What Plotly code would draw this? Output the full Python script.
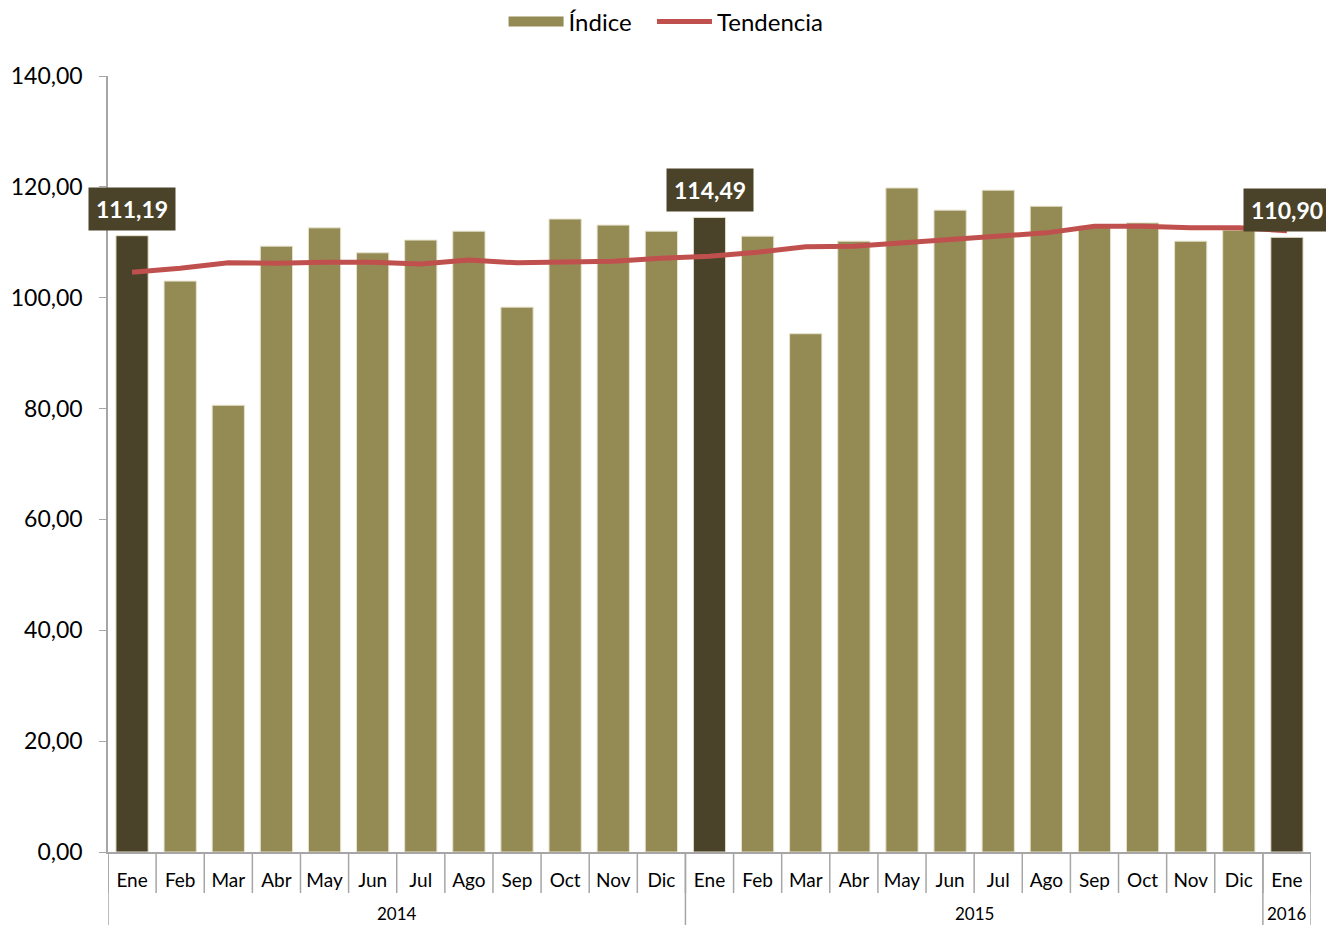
import plotly.graph_objects as go

months = ["Ene", "Feb", "Mar", "Abr", "May", "Jun", "Jul", "Ago", "Sep", "Oct", "Nov", "Dic",
          "Ene", "Feb", "Mar", "Abr", "May", "Jun", "Jul", "Ago", "Sep", "Oct", "Nov", "Dic",
          "Ene"]
years = ["2014", "2015", "2016"]
year_counts = [12, 12, 1]
indice = [111.19, 103.0, 80.6, 109.3, 112.6, 108.1, 110.4, 112.0, 98.3, 114.2, 113.1, 112.0,
          114.49, 111.1, 93.5, 110.2, 119.8, 115.8, 119.4, 116.5, 112.9, 113.5, 110.2, 112.2,
          110.90]
tendencia = [104.6, 105.3, 106.3, 106.2, 106.4, 106.4, 106.1, 106.8, 106.3, 106.4, 106.6, 107.1,
             107.5, 108.2, 109.2, 109.3, 109.9, 110.5, 111.2, 111.7, 112.9, 112.9, 112.6, 112.6,
             112.1]
highlight = [0, 12, 24]

x = list(range(len(months)))
light = "#948A54"
dark = "#4A4329"
colors = [dark if i in highlight else light for i in x]

fig = go.Figure()
fig.add_trace(go.Bar(x=x, y=indice, name="Índice", marker=dict(color=colors, line=dict(color="#E6E2CC", width=1)),
                     showlegend=False))
# legend proxy for bars (wide rectangle look)
fig.add_trace(go.Scatter(x=[None], y=[None], name="Índice", mode="lines",
                         line=dict(color=light, width=16), showlegend=True, legend="legend"))
fig.add_trace(go.Scatter(x=x, y=tendencia, name="Tendencia", mode="lines",
                         line=dict(color="#C0504D", width=5), legend="legend2"))

font = "Lato"
W, H = 1318, 917
ml, mr, mt, mb = 100, 15, 68, 73
plot_h = H - mt - mb
shapes = []
# month separators
for i in range(len(months) + 1):
    shapes.append(dict(type="line", xref="x", yref="paper", x0=i - 0.5, x1=i - 0.5,
                       y0=0, y1=-41 / plot_h, line=dict(color="#A6A6A6", width=1.5)))
# year separators
edge = -0.5
edges = [edge]
for c in year_counts:
    edge += c
    edges.append(edge)
for e in edges:
    shapes.append(dict(type="line", xref="x", yref="paper", x0=e, x1=e,
                       y0=0, y1=-mb / plot_h, line=dict(color="#A6A6A6", width=1.5)))

annotations = []
start = -0.5
for yr, c in zip(years, year_counts):
    annotations.append(dict(x=start + c / 2, y=-61 / plot_h, xref="x", yref="paper", text=yr,
                            yanchor="middle", showarrow=False,
                            font=dict(family=font, size=17, color="#000")))
    start += c
for i in highlight:
    annotations.append(dict(x=i, y=indice[i], xref="x", yref="y", yshift=27,
                            text=f"{indice[i]:.2f}".replace(".", ","), showarrow=False,
                            bgcolor=dark, borderpad=7,
                            font=dict(family=font, size=23, color="white", weight="bold")))

leg_common = dict(orientation="h", xanchor="left", y=1 - 14 / H, yanchor="middle",
                  xref="container", yref="container",
                  font=dict(family=font, size=24, color="#000"), itemwidth=55)

fig.update_layout(
    width=W, height=H,
    margin=dict(l=ml, r=mr, t=mt, b=mb, autoexpand=False),
    plot_bgcolor="white", paper_bgcolor="white",
    separators=",.",
    bargap=0.33,
    shapes=shapes,
    annotations=annotations,
    legend=dict(x=0.376, **leg_common),
    legend2=dict(x=0.4886, **leg_common),
    xaxis=dict(range=[-0.5, len(months) - 0.5], tickvals=x, ticktext=months, automargin=False,
               showgrid=False, zeroline=False, showline=True, linecolor="#A6A6A6", linewidth=1.5,
               ticks="", ticklabelstandoff=10,
               tickfont=dict(family=font, size=19, color="#000")),
    yaxis=dict(range=[0, 140], dtick=20, tickformat=".2f", showgrid=False, zeroline=False,
               automargin=False,
               showline=True, linecolor="#A6A6A6", linewidth=1.5, ticks="outside", ticklen=7,
               ticklabelstandoff=12,
               tickcolor="#A6A6A6", tickfont=dict(family=font, size=23, color="#000")),
)

fig.write_html("out.html")
